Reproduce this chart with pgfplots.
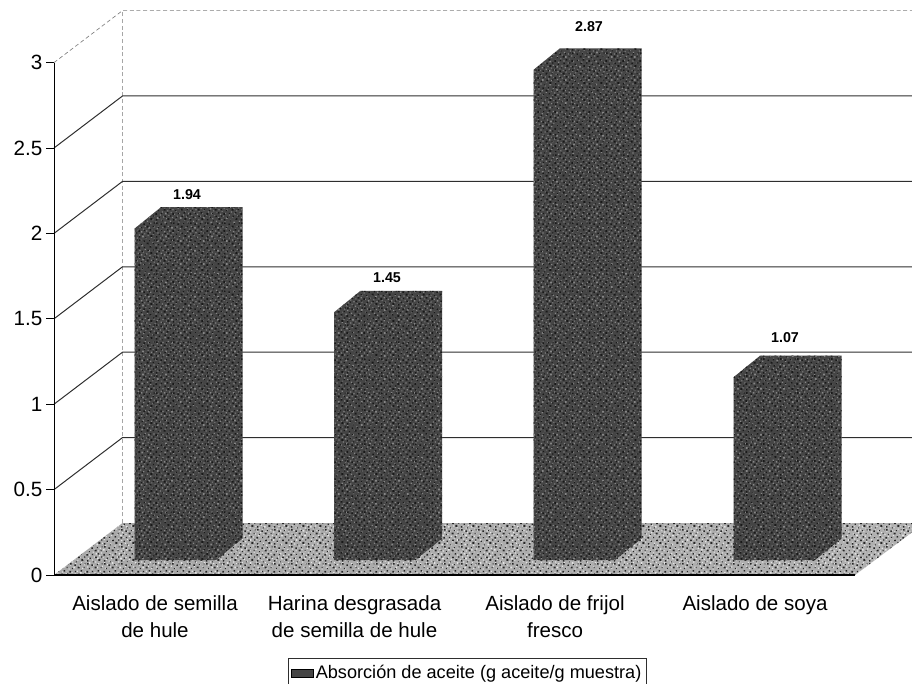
\documentclass[border=0pt]{standalone}
\usepackage{fontspec}
\setmainfont{Liberation Sans}
\usepackage{pgfplots}
\pgfplotsset{compat=1.18}
\usetikzlibrary{patterns}

% Speckle tiles used for the printed grain of the bars and the floor
\newcommand\gr[3][0.9]{\pgfpathrectangle{\pgfqpoint{#2pt}{#3pt}}{\pgfqpoint{#1pt}{#1pt}}}
\pgfdeclarepatternformonly{grainA}{\pgfqpoint{0pt}{0pt}}{\pgfqpoint{17pt}{17pt}}{\pgfqpoint{17pt}{17pt}}{%
  \gr{0.4}{0.3}\gr{10.7}{0.9}\gr[1.3]{4.1}{1.2}\gr{14.6}{1.8}\gr{8.2}{2.4}\gr[0.7]{1.7}{3.3}\gr{12.3}{3.6}
  \gr{5.4}{4.4}\gr[1.3]{15.8}{4.6}\gr{9.7}{5.2}\gr{3.1}{5.6}\gr{13.4}{6.3}\gr[0.7]{7.1}{6.9}\gr{0.6}{7.2}
  \gr{11.2}{7.7}\gr[1.3]{4.6}{8.1}\gr{15.1}{8.3}\gr{8.7}{9.0}\gr{2.1}{9.4}\gr[0.7]{12.6}{9.9}\gr{6.2}{10.3}
  \gr{16.1}{10.9}\gr{10.1}{11.2}\gr[1.3]{3.6}{11.6}\gr{14.0}{12.1}\gr{7.6}{12.5}\gr{1.2}{13.1}\gr[0.7]{11.6}{13.4}
  \gr{5.1}{13.9}\gr{15.6}{14.2}\gr[1.3]{9.1}{14.7}\gr{2.6}{15.2}\gr{13.1}{15.5}\gr{6.6}{16.0}\gr[0.7]{16.4}{16.2}
  \pgfusepath{fill}}
\pgfdeclarepatternformonly{grainB}{\pgfqpoint{0pt}{0pt}}{\pgfqpoint{13pt}{13pt}}{\pgfqpoint{13pt}{13pt}}{%
  \gr[1.2]{0.7}{1.1}\gr{5.3}{0.4}\gr[1.5]{9.6}{1.6}\gr{2.9}{3.2}\gr[1.2]{7.2}{3.7}\gr{11.8}{4.2}
  \gr[1.5]{0.2}{5.6}\gr{4.6}{6.1}\gr[1.2]{9.1}{6.5}\gr{2.2}{8.4}\gr[1.5]{6.7}{8.9}\gr{11.3}{9.2}
  \gr[1.2]{4.1}{10.9}\gr{8.4}{11.4}\gr[1.2]{0.9}{11.8}\gr{12.1}{12.0}
  \pgfusepath{fill}}

\definecolor{barbase}{gray}{0.27}
\definecolor{barlight}{gray}{0.52}
\definecolor{bardark}{gray}{0.10}
\definecolor{gridcol}{gray}{0.18}

% 1 unit of value = 170.8 px on the front plane; x is given in px
\newcommand\backrise{0.3045}
\newcommand\barfoot{0.0878}
\newcommand\barrise{0.126}

% Wall gridline: from the front axis up the side wall, then along the back wall
\newcommand\wallgrid[1]{%
  \pgfmathsetmacro\yb{#1+\backrise}
  \addplot[forget plot,gridcol,line width=0.75pt] coordinates {(54,#1) (122.5,\yb) (912,\yb)};
}

% Bar silhouette: left edge of the front face and the value it stands for
\newcommand\threedbar[2]{%
  \pgfmathsetmacro\xa{#1}\pgfmathsetmacro\xb{#1+81.5}\pgfmathsetmacro\xc{#1+108}\pgfmathsetmacro\xd{#1+26.5}
  \pgfmathsetmacro\ya{\barfoot}\pgfmathsetmacro\yb{\barfoot+\barrise}
  \pgfmathsetmacro\yc{#2+\barfoot}\pgfmathsetmacro\yd{#2+\barfoot+\barrise}
  \addplot[forget plot,draw=none,fill=barbase] coordinates {(\xa,\ya) (\xb,\ya) (\xc,\yb) (\xc,\yd) (\xd,\yd) (\xa,\yc)} --cycle;
  \addplot[forget plot,draw=none,pattern=grainA,pattern color=barlight] coordinates {(\xa,\ya) (\xb,\ya) (\xc,\yb) (\xc,\yd) (\xd,\yd) (\xa,\yc)} --cycle;
  \addplot[forget plot,draw=none,pattern=grainB,pattern color=bardark] coordinates {(\xa,\ya) (\xb,\ya) (\xc,\yb) (\xc,\yd) (\xd,\yd) (\xa,\yc)} --cycle;
}

\begin{document}
\begin{tikzpicture}
\useasboundingbox (-40.5pt,-81pt) rectangle (643.5pt,431.25pt);
\begin{axis}[
  scale only axis, width=643.5pt, height=431.25pt,
  xmin=54, xmax=912, ymin=0, ymax=3.3665,
  clip=false,
  axis x line*=bottom, axis y line*=left,
  axis line style={draw=none},
  tick align=outside,
  major tick length=6pt, minor tick length=7pt,
  ytick={0,0.5,1,1.5,2,2.5,3},
  yticklabels={0,0.5,1,1.5,2,2.5,3},
  yticklabel style={font=\fontsize{15.5}{18}\selectfont,inner xsep=2.5pt},
  ytick style={black,line width=0.6pt},
  xtick={155,354.5,555,755},
  xticklabels={{Aislado de semilla\\[0.5pt]de hule},{Harina desgrasada\\[0.5pt]de semilla de hule},{Aislado de frijol\\[0.5pt]fresco},{Aislado de soya}},
  xticklabel style={font=\fontsize{15.4}{19.5}\selectfont,align=center,anchor=north,yshift=-6pt},
  xtick style={draw=none},
  minor xtick={54,255,453,653,855},
  minor tick style={black,line width=0.7pt},
  legend style={at={(axis cs:467,-0.574)},anchor=center,draw=gridcol,line width=0.6pt,
    font=\fontsize{13.6}{16}\selectfont,inner xsep=2pt,inner ysep=3pt,
    nodes={inner xsep=1.5pt,inner ysep=2pt}},
  legend cell align=left,
]
% back and side walls
\addplot[forget plot,gray!70,line width=0.6pt,densely dashed] coordinates {(122.5,0.3045) (122.5,3.3045)};
\addplot[forget plot,gray,line width=0.5pt,densely dashed] coordinates {(54,3) (122.5,3.3045) (912,3.3045)};
\wallgrid{0.5}\wallgrid{1}\wallgrid{1.5}\wallgrid{2}\wallgrid{2.5}

% floor, lighter at both ends as in the scan
\addplot[forget plot,draw=none,left color=gray!68,middle color=gray!88!black,right color=gray!62]
  coordinates {(54,0) (122.5,0.3045) (912,0.3045) (912,0.25) (855,0)} --cycle;
\addplot[forget plot,draw=none,pattern=grainA,pattern color=gray!22]
  coordinates {(54,0) (122.5,0.3045) (912,0.3045) (912,0.25) (855,0)} --cycle;
\addplot[forget plot,draw=none,pattern=grainB,pattern color=gray!30!black]
  coordinates {(54,0) (122.5,0.3045) (912,0.3045) (912,0.25) (855,0)} --cycle;

% axis lines
\addplot[forget plot,black,line width=0.7pt] coordinates {(54,0) (54,3)};
\addplot[forget plot,black,line width=0.9pt] coordinates {(54,0) (855,0)};

% bars
\threedbar{134.5}{1.94}
\threedbar{334}{1.45}
\threedbar{533.5}{2.87}
\threedbar{733.5}{1.07}

% value labels
\node[font=\fontsize{10.7}{12}\bfseries] at (axis cs:187,2.225) {1.94};
\node[font=\fontsize{10.7}{12}\bfseries] at (axis cs:387,1.739) {1.45};
\node[font=\fontsize{10.7}{12}\bfseries] at (axis cs:589,3.209) {2.87};
\node[font=\fontsize{10.7}{12}\bfseries] at (axis cs:785,1.388) {1.07};

\addlegendimage{area legend,draw=black,fill=barbase,line width=0.3pt}
\addlegendentry{Absorción de aceite (g aceite/g muestra)}
\end{axis}
\end{tikzpicture}
\end{document}
